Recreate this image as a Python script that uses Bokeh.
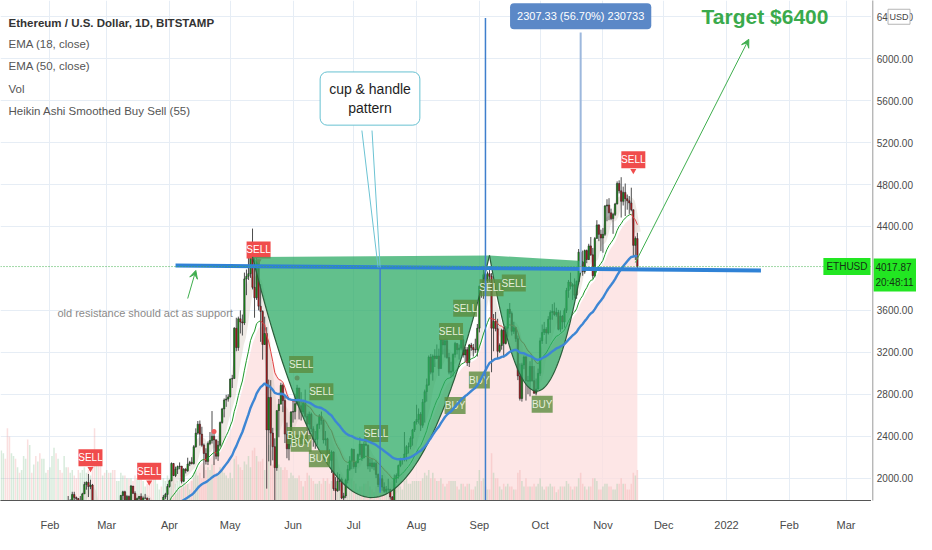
import numpy as np
import pandas as pd
from bokeh.plotting import figure
from bokeh.layouts import row
from bokeh.models import (Range1d, FixedTicker, Label, Arrow, VeeHead, Span, Grid)
from bokeh.embed import file_html
from bokeh.resources import INLINE
from bokeh.core.properties import value

# ----------------------------------------------------------------- data ----
start_date = "2021-01-08"
first_open = 1217

closes = [
    1225, 1280, 1262, 1090, 1045, 1130, 1230, 1170, 1235, 1230, 1255, 1380, 1380, 1120, 1235, 1230, 1390, 1325, 1360, 1250, 1330, 1380, 1380, 1315,
    1370, 1515, 1660, 1595, 1720, 1680, 1615, 1750, 1770, 1745, 1785, 1845, 1815, 1805, 1780, 1780, 1850, 1940, 1960, 1920, 1935, 1780, 1570, 1625, 1475, 1445, 1460, 1415,
    1565, 1490, 1575, 1540, 1530, 1655, 1720, 1835, 1870, 1795, 1825, 1770, 1925, 1855, 1790, 1805, 1825, 1780, 1810, 1810, 1785, 1680, 1670, 1585, 1590, 1700, 1715, 1690, 1820, 1845, 1920,
    1975, 2140, 2025, 2085, 2110, 2115, 1970, 2085, 2070, 2135, 2150, 2140, 2300, 2430, 2515, 2420, 2315, 2235, 2160, 2330, 2360, 2400, 2365, 2210, 2315, 2530, 2660, 2745, 2755, 2775,
    2945, 2950, 3430, 3245, 3520, 3490, 3480, 3900, 3925, 3950, 4170, 3820, 3720, 4080, 3640, 3590, 3275, 3380, 2460, 2770, 2430, 2300, 2100, 2645, 2705, 2885, 2740, 2420, 2280, 2390, 2630,
    2635, 2710, 2860, 2690, 2630, 2715, 2590, 2515, 2610, 2470, 2370, 2370, 2510, 2590, 2550, 2365, 2375, 2225, 2170, 2250, 1900, 1880, 1970, 1990, 1810, 1830, 1980, 2085, 2165, 2275,
    2110, 2150, 2225, 2325, 2195, 2325, 2315, 2115, 2145, 2110, 2140, 2035, 1940, 1995, 1915, 1875, 1895, 1895, 1820, 1785, 1995, 2025, 2120, 2185, 2190, 2230, 2300, 2300, 2380, 2460, 2535,
    2560, 2610, 2505, 2725, 2825, 2890, 3155, 3010, 3165, 3140, 3165, 3045, 3320, 3270, 3310, 3150, 3010, 3020, 3180, 3285, 3225, 3240, 3320, 3175, 3225, 3100, 3270, 3245, 3225, 3225, 3430,
    3830, 3790, 3940, 3885, 3950, 3925, 3430, 3495, 3425, 3210, 3265, 3410, 3285, 3430, 3610, 3570, 3400, 3435, 3330, 2975, 2760, 3080, 3155, 2930, 2925, 3065, 2930, 2810, 2850, 3000,
    3310, 3390, 3420, 3385, 3515, 3580, 3590, 3560, 3580, 3420, 3545, 3490, 3600, 3790, 3870, 3830, 3845, 3745, 3875, 4155, 4060, 3970, 4170, 4085, 4215, 4130, 3930, 4285, 4415, 4325, 4290,
    4325, 4595, 4605, 4530, 4475, 4515, 4615, 4810, 4740, 4640, 4725, 4665, 4645, 4625, 4560, 4220, 4285, 4017.87,
]
highs = [
    1285, 1300, 1345, 1260, 1150, 1140, 1245, 1250, 1260, 1250, 1265, 1440, 1390, 1385, 1260, 1275, 1420, 1470, 1375, 1365, 1345, 1430, 1395, 1385,
    1375, 1540, 1665, 1690, 1735, 1740, 1680, 1775, 1790, 1830, 1800, 1870, 1870, 1825, 1810, 1830, 1860, 1965, 1970, 2040, 1985, 1945, 1790, 1715, 1670, 1555, 1525, 1465,
    1570, 1595, 1655, 1620, 1545, 1670, 1735, 1840, 1880, 1880, 1840, 1835, 1935, 1925, 1875, 1815, 1830, 1855, 1825, 1850, 1815, 1810, 1725, 1740, 1630, 1710, 1730, 1725, 1840, 1860, 1945,
    1985, 2150, 2145, 2110, 2120, 2150, 2115, 2095, 2095, 2195, 2165, 2200, 2315, 2475, 2545, 2550, 2490, 2330, 2285, 2350, 2440, 2640, 2445, 2370, 2355, 2540, 2670, 2760, 2795, 2800,
    2950, 2985, 3440, 3530, 3540, 3600, 3560, 3960, 3990, 4200, 4230, 4380, 4140, 4140, 4080, 3850, 3600, 3540, 3440, 2940, 2935, 2480, 2380, 2645, 2755, 2910, 2900, 2780, 2530, 2425, 2640,
    2740, 2805, 2890, 2860, 2820, 2745, 2845, 2615, 2635, 2625, 2495, 2450, 2520, 2610, 2635, 2560, 2450, 2385, 2275, 2265, 2255, 2010, 2055, 2040, 2005, 1860, 1995, 2125, 2210, 2285,
    2275, 2155, 2235, 2390, 2325, 2350, 2410, 2320, 2185, 2185, 2155, 2170, 2045, 2010, 2030, 1960, 1925, 1995, 1895, 1830, 2035, 2045, 2130, 2195, 2190, 2440, 2315, 2340, 2400, 2470, 2545,
    2700, 2665, 2630, 2755, 2845, 2950, 3170, 3185, 3180, 3230, 3275, 3235, 3330, 3300, 3330, 3330, 3195, 3110, 3190, 3300, 3285, 3275, 3370, 3360, 3250, 3250, 3280, 3290, 3280, 3330, 3470,
    3840, 3840, 4025, 3975, 3970, 3985, 3955, 3565, 3585, 3520, 3285, 3425, 3440, 3450, 3610, 3670, 3590, 3490, 3440, 3360, 3095, 3100, 3170, 3165, 2975, 3115, 3160, 3070, 2950, 3045,
    3340, 3465, 3490, 3440, 3545, 3600, 3660, 3675, 3625, 3605, 3600, 3555, 3620, 3815, 3890, 3960, 3860, 3905, 3885, 4185, 4370, 4170, 4180, 4180, 4235, 4300, 4195, 4300, 4460, 4420, 4370,
    4385, 4605, 4660, 4670, 4570, 4530, 4625, 4830, 4840, 4870, 4780, 4810, 4705, 4690, 4770, 4560, 4305, 4340,
]
lows = [
    1160, 1200, 1170, 905, 1010, 1030, 1120, 1100, 1160, 1175, 1185, 1245, 1260, 1095, 1030, 1220, 1225, 1300, 1265, 1220, 1225, 1300, 1320, 1295,
    1305, 1370, 1510, 1510, 1595, 1660, 1540, 1565, 1715, 1690, 1715, 1755, 1790, 1775, 1660, 1740, 1770, 1850, 1890, 1820, 1895, 1600, 1360, 1510, 1460, 1405, 1420, 1295,
    1410, 1460, 1485, 1500, 1440, 1530, 1640, 1710, 1790, 1760, 1740, 1735, 1765, 1850, 1750, 1740, 1750, 1770, 1765, 1800, 1750, 1670, 1655, 1575, 1550, 1585, 1680, 1660, 1690, 1800, 1780,
    1910, 1970, 2020, 2010, 2040, 2085, 1950, 1965, 2045, 2060, 2115, 2130, 2130, 2290, 2415, 2310, 2300, 2000, 2130, 2125, 2315, 2330, 2125, 2180, 2165, 2300, 2520, 2580, 2680, 2730,
    2770, 2860, 2950, 3210, 3215, 3380, 3360, 3460, 3745, 3890, 3910, 3800, 3530, 3700, 3600, 3300, 3130, 3270, 1900, 2160, 2120, 2170, 1740, 2070, 2390, 2705, 2630, 2335, 2190, 2170, 2310,
    2530, 2560, 2695, 2560, 2550, 2610, 2575, 2320, 2420, 2440, 2300, 2280, 2315, 2470, 2510, 2330, 2310, 2175, 2140, 2050, 1880, 1700, 1870, 1880, 1800, 1720, 1810, 1950, 2070, 2085,
    2090, 2050, 2140, 2205, 2165, 2190, 2305, 2085, 2060, 2090, 2075, 2000, 1915, 1880, 1880, 1860, 1855, 1870, 1795, 1720, 1780, 1955, 1995, 2105, 2130, 2160, 2160, 2235, 2275, 2310, 2440,
    2510, 2520, 2450, 2480, 2530, 2730, 2880, 2990, 2930, 3060, 3135, 2975, 3045, 3180, 3150, 3140, 2990, 2960, 2970, 3150, 3180, 3130, 3220, 3150, 3105, 3070, 3060, 3215, 3160, 3195, 3160,
    3390, 3720, 3710, 3830, 3845, 3870, 3010, 3210, 3400, 3140, 3195, 3225, 3150, 3275, 3350, 3530, 3360, 3375, 3300, 2935, 2740, 2730, 3040, 2740, 2800, 2780, 2920, 2805, 2790, 2845,
    2975, 3280, 3365, 3280, 3370, 3385, 3510, 3545, 3540, 3410, 3395, 3420, 3435, 3575, 3720, 3800, 3700, 3715, 3710, 3850, 3970, 3930, 3950, 4050, 4080, 4120, 3900, 3915, 4285, 4260, 4165,
    4150, 4310, 4450, 4460, 4460, 4330, 4500, 4610, 4715, 4485, 4600, 4500, 4560, 4520, 4545, 4110, 4080, 4000,
]
volumes = [  # thousands ETH
    180, 170, 150, 260, 230, 170, 160, 150, 120, 100, 110, 160, 150, 220, 200, 100, 130, 160, 140, 170, 150, 150, 100, 110,
    120, 160, 190, 170, 150, 110, 100, 160, 120, 120, 100, 110, 90, 80, 110, 100, 110, 120, 100, 110, 90, 170, 260, 180, 170, 130, 90, 100,
    110, 100, 100, 110, 110, 70, 70, 100, 90, 90, 80, 80, 80, 70, 90, 80, 90, 80, 70, 50, 60, 80, 80, 90, 90, 60, 40, 50, 80, 70, 90,
    80, 100, 90, 60, 70, 80, 90, 70, 60, 60, 40, 70, 100, 110, 90, 100, 80, 120, 110, 120, 110, 130, 140, 100, 90, 120, 110, 100, 90, 80,
    100, 80, 150, 160, 130, 120, 110, 140, 130, 160, 120, 180, 190, 160, 140, 140, 150, 110, 300, 200, 180, 130, 180, 140, 130, 120, 110, 120, 110, 80, 100,
    90, 80, 80, 90, 70, 50, 70, 100, 90, 80, 70, 60, 60, 70, 60, 80, 70, 80, 60, 70, 120, 150, 100, 80, 90, 70, 60, 70, 80, 80,
    70, 60, 40, 50, 50, 60, 60, 70, 50, 40, 30, 50, 60, 60, 60, 60, 40, 40, 50, 70, 90, 60, 50, 50, 40, 70, 80, 60, 60, 70, 70,
    70, 70, 70, 80, 100, 90, 110, 80, 100, 80, 70, 70, 80, 60, 50, 60, 70, 70, 70, 70, 50, 40, 60, 60, 50, 60, 60, 40, 40, 50, 70,
    110, 70, 80, 50, 40, 40, 170, 100, 80, 80, 50, 40, 60, 50, 60, 50, 50, 40, 40, 100, 110, 70, 50, 80, 50, 50, 50, 60, 50, 60,
    80, 50, 40, 50, 50, 60, 50, 50, 30, 40, 50, 50, 50, 70, 60, 50, 40, 50, 50, 80, 100, 60, 50, 40, 50, 50, 80, 80, 70, 40, 40,
    50, 60, 60, 50, 50, 40, 40, 60, 60, 80, 60, 60, 40, 40, 60, 100, 90, 110,
]

month_ticks = ["2021-02-01", "2021-03-01", "2021-04-01", "2021-05-01", "2021-06-01", "2021-07-01",
               "2021-08-01", "2021-09-01", "2021-10-01", "2021-11-01", "2021-12-01", "2022-01-01",
               "2022-02-01", "2022-03-01"]
month_labels = ["Feb", "Mar", "Apr", "May", "Jun", "Jul", "Aug", "Sep", "Oct", "Nov", "Dec", "2022", "Feb", "Mar"]
price_ticks = [2000, 2400, 2800, 3200, 3600, 4400, 4800, 5200, 5600, 6000, 6400]
price_tick_labels = ["2000.00", "2400.00", "2800.00", "3200.00", "3600.00", "4400.00", "4800.00",
                     "5200.00", "5600.00", "6000.00", "6400.00"]

# Heikin Ashi smoothed signals (date, price of label, text)
red_sig_dates = ["2021-02-21", "2021-03-22", "2021-05-15", "2021-11-16"]
red_sig_prices = [2194, 2065, 4176, 5037]
red_sig_texts = ["SELL", "SELL", "SELL", "SELL"]
ol_sig_dates = ["2021-06-05", "2021-06-15", "2021-06-03", "2021-06-05", "2021-06-14", "2021-07-12",
                "2021-08-25", "2021-08-18", "2021-09-01", "2021-08-20", "2021-10-02", "2021-09-18", "2021-09-07"]
ol_sig_prices = [3083, 2824, 2407, 2333, 2185, 2426, 3620, 3398, 2935, 2694, 2704, 3861, 3815]
ol_sig_texts = ["SELL", "SELL", "BUY", "BUY", "BUY", "SELL", "SELL", "SELL", "BUY", "BUY", "BUY", "SELL", "SELL"]
dot_dates = ["2021-06-03", "2021-04-23"]
dot_prices = [2954, 2444]

# drawings (date, price)
cup_main = [("2021-05-12", 4110), ("2021-07-10", 1815), ("2021-09-06", 4124)]
cup_handle = [("2021-09-06", 4124), ("2021-09-29", 2830), ("2021-10-22", 4070)]
resistance_line = [("2021-04-04", 4028), ("2022-01-18", 3981)]
target_arrow = [("2021-11-17", 4056), ("2022-01-12", 6185)]
support_arrow = [("2021-04-10", 3713), ("2021-04-14", 3981)]
vline_cup = [("2021-07-14", 4009), ("2021-07-14", 1861)]
vline_sep = [("2021-09-04", 6389), ("2021-09-04", 1700)]
vline_measure = [("2021-10-21", 6250), ("2021-10-21", 3960)]
callout_pointer = [("2021-07-05", 5315), ("2021-07-13", 4009), ("2021-07-10", 5315), ("2021-07-14", 4009)]
last_price = 4017.87

# -------------------------------------------------------------- helpers ----
FONT = "Liberation Sans"
DAY = 86400000


def ms(d):
    return pd.Timestamp(d).value // 10**6


def qcurve(pts, n=80):
    (x0, y0), (xb, yb), (x2, y2) = [(ms(d), v) for d, v in pts]
    cx = 2 * xb - (x0 + x2) / 2
    cy = 2 * yb - (y0 + y2) / 2
    t = np.linspace(0, 1, n)
    xs = (1 - t) ** 2 * x0 + 2 * t * (1 - t) * cx + t ** 2 * x2
    ys = (1 - t) ** 2 * y0 + 2 * t * (1 - t) * cy + t ** 2 * y2
    return list(xs), list(ys)


n = len(closes)
dates = [ms(pd.Timestamp(start_date) + pd.Timedelta(days=i)) for i in range(n)]
opens = [first_open] + closes[:-1]
up = [c >= o for o, c in zip(opens, closes)]

s_close = pd.Series(closes, dtype=float)
ema18 = s_close.ewm(span=18, adjust=False).mean().tolist()
ema50 = s_close.ewm(span=50, adjust=False).mean().tolist()
ha_close = (pd.Series(opens) + pd.Series(highs) + pd.Series(lows) + s_close) / 4
ha_smooth = ha_close.ewm(span=5, adjust=False).mean().tolist()
pink_top = ha_close.ewm(span=20, adjust=False).mean().tolist()

Y0, Y1 = 1787, 6555
X0, X1 = ms("2021-01-07 14:00"), ms("2022-03-13 14:00")
H = 534
WA, WB = 871, 45
BOTTOM = 34
FRAME_H = H - BOTTOM
ppu = FRAME_H / (Y1 - Y0)  # pixels per USD

# ---------------------------------------------------------------- figure ----
p = figure(width=WA, height=H, output_backend="svg", toolbar_location=None,
           x_range=Range1d(X0, X1), y_range=Range1d(Y0, Y1),
           y_axis_location=None, min_border_left=0, min_border_top=0,
           min_border_right=0, min_border_bottom=BOTTOM)
p.outline_line_color = None
p.background_fill_color = "white"
p.border_fill_color = "white"

xt = FixedTicker(ticks=[ms(d) for d in month_ticks])
yt = FixedTicker(ticks=price_ticks)
p.xaxis.ticker = xt
p.xaxis.major_label_overrides = {ms(d): l for d, l in zip(month_ticks, month_labels)}
p.xgrid.ticker = xt
if len(p.ygrid) == 0:
    p.add_layout(Grid(dimension=1, ticker=yt))
else:
    p.ygrid.ticker = yt
p.xaxis.major_tick_line_color = None
p.xaxis.minor_tick_line_color = None
p.xaxis.major_label_text_font = FONT
p.xaxis.major_label_text_font_size = "11px"
p.xaxis.major_label_text_color = "#4a4a4a"
p.xaxis.axis_line_color = "#555555"
p.xaxis.major_label_standoff = 12
p.grid.grid_line_color = "#e6edf5"
p.grid.grid_line_width = 1

# pink Heikin-Ashi area
p.varea(x=dates, y1=[Y0 - 100] * n, y2=pink_top, fill_color="#fcdede", fill_alpha=0.75)

# volume
p.extra_y_ranges = {"vol": Range1d(0, 1800)}
p.vbar(x=dates, top=volumes, width=0.75 * DAY, y_range_name="vol",
       fill_color=["#8fc79a" if u else "#f2a3a3" for u in up], line_color=None, fill_alpha=0.35)

# HA smoothed band
p.line(dates, ha_smooth, line_color="#d9cec3", line_width=7, line_alpha=0.45)

# candles
p.segment(x0=dates, y0=lows, x1=dates, y1=highs, line_color="#4d4d4d", line_width=1)
p.vbar(x=dates, width=0.72 * DAY, top=[max(o, c) for o, c in zip(opens, closes)],
       bottom=[min(o, c) for o, c in zip(opens, closes)],
       fill_color=["#179a17" if u else "#b8191c" for u in up], line_color="#222222", line_width=0.5)

# EMA 18 (green rising / red falling)
p.segment(x0=dates[:-1], y0=ema18[:-1], x1=dates[1:], y1=ema18[1:],
          line_color=["#1f9a2a" if b >= a else "#e04444" for a, b in zip(ema18[:-1], ema18[1:])],
          line_width=1)

# red SELL signals
rx = [ms(d) for d in red_sig_dates]
p.rect(x=rx, y=red_sig_prices, width=24, height=17, width_units="screen", height_units="screen",
       fill_color="#f04c4c", line_color=None)
p.scatter(x=rx, y=[v - 11 / ppu for v in red_sig_prices], marker="inverted_triangle", size=6,
          fill_color="#f04c4c", line_color=None)
p.text(x=rx, y=red_sig_prices, text=red_sig_texts, text_color="white", text_font=value(FONT),
       text_font_size="10px", text_align="center", text_baseline="middle")
p.scatter(x=[ms(d) for d in dot_dates], y=dot_prices, size=5, fill_color="#f05a5a", line_color=None)

# cup & handle drawing
for cup in (cup_main, cup_handle):
    cx, cy = qcurve(cup)
    p.patch(cx, cy, fill_color="#2eab66", fill_alpha=0.75, line_color=None)
    p.line(cx, cy, line_color="#2b5e3b", line_width=1.2)

# olive signals
ox = [ms(d) for d in ol_sig_dates]
p.rect(x=ox, y=ol_sig_prices, width=[24 if t == "SELL" else 21 for t in ol_sig_texts], height=17,
       width_units="screen", height_units="screen", fill_color="#5b8c3e", fill_alpha=0.8, line_color=None)
p.text(x=ox, y=ol_sig_prices, text=ol_sig_texts, text_color="#e4eed9", text_font=value(FONT),
       text_font_size="10px", text_align="center", text_baseline="middle")

# EMA 50
p.line(dates, ema50, line_color="#3d86d4", line_width=2.4)

# lines
p.add_layout(Span(location=last_price, dimension="width", line_color="#43b14f",
                  line_dash="1 2", line_width=1))
(ra, rva), (rb, rvb) = resistance_line
p.segment(x0=[ms(ra)], y0=[rva], x1=[ms(rb)], y1=[rvb], line_color="#2f82d6", line_width=4)
for (da, va), (db, vb) in (vline_cup, vline_sep):
    p.segment(x0=[ms(da)], y0=[va], x1=[ms(db)], y1=[vb], line_color="#3f7fcc", line_width=1.5)
(ma, mva), (mb, mvb) = vline_measure
p.segment(x0=[ms(ma)], y0=[mva], x1=[ms(mb)], y1=[mvb], line_color="#9db8dd", line_width=2)
cp = callout_pointer
p.segment(x0=[ms(cp[0][0]), ms(cp[2][0])], y0=[cp[0][1], cp[2][1]],
          x1=[ms(cp[1][0]), ms(cp[3][0])], y1=[cp[1][1], cp[3][1]], line_color="#6cc3d3", line_width=1)

for (da, va), (db, vb) in (target_arrow, support_arrow):
    p.add_layout(Arrow(end=VeeHead(size=8, line_color="#3fae4e", line_width=1, fill_color="#3fae4e"),
                       x_start=ms(da), y_start=va, x_end=ms(db), y_end=vb,
                       line_color="#3fae4e", line_width=1))

# ----------------------------------------------------------------- texts ----
p.add_layout(Label(x=ms("2021-07-09"), y=5620, text="cup & handle\npattern", text_font=FONT,
                   text_font_size="14px", text_color="#1e1e1e", text_align="center",
                   text_baseline="middle", background_fill_color="white", border_line_color="#67c1d1",
                   border_line_width=1, border_radius=7, padding=9))
p.add_layout(Label(x=ms("2021-10-21"), y=6405, text="2307.33 (56.70%) 230733", text_font=FONT,
                   text_font_size="11px", text_color="white", text_align="center", text_baseline="middle",
                   background_fill_color="#5b88c7", border_radius=4, padding=7))
p.add_layout(Label(x=ms("2022-01-20"), y=6400, text="Target $6400", text_font=FONT,
                   text_font_size="21px", text_font_style="bold", text_color="#3aaa4c",
                   text_align="center", text_baseline="middle"))
p.add_layout(Label(x=ms("2021-03-20"), y=3574, text="old resistance should act as support",
                   text_font=FONT, text_font_size="11px", text_color="#8a8a8a",
                   text_align="center", text_baseline="middle"))

legend_lines = [("Ethereum / U.S. Dollar, 1D, BITSTAMP", "bold", "#333333", 22),
                ("EMA (18, close)", "normal", "#555555", 43),
                ("EMA (50, close)", "normal", "#555555", 65),
                ("Vol", "normal", "#555555", 88),
                ("Heikin Ashi Smoothed Buy Sell  (55)", "normal", "#555555", 110)]
for txt, style, col, dy in legend_lines:
    p.add_layout(Label(x=X0, y=Y1, x_offset=8, y_offset=-dy, text=txt, text_font=FONT,
                       text_font_size="11.5px", text_font_style=style, text_color=col,
                       text_baseline="middle"))

p.add_layout(Label(x=X1, y=last_price, x_offset=-1, text="ETHUSD", text_font=FONT,
                   text_font_size="10px", text_color="#143314", text_align="right",
                   text_baseline="middle", background_fill_color="#22e622", padding=3))

# ------------------------------------------------------ price scale panel ----
q = figure(width=WB, height=H, output_backend="svg", toolbar_location=None,
           x_range=Range1d(-0.03, 1), y_range=p.y_range,
           x_axis_location=None, y_axis_location=None, min_border_left=0, min_border_top=0,
           min_border_right=0, min_border_bottom=BOTTOM)
q.outline_line_color = None
q.grid.visible = False
q.background_fill_color = "white"
q.border_fill_color = "white"
q.segment(x0=[0], y0=[Y0 - 200], x1=[0], y1=[Y1 + 200], line_color="#9a9a9a", line_width=1)
q.text(x=[0] * len(price_ticks), y=price_ticks, text=price_tick_labels, x_offset=4,
       text_font=value(FONT), text_font_size="10px", text_color="#4a4a4a",
       text_align="left", text_baseline="middle")
q.rect(x=[0.6], y=[6400], width=22, height=15, width_units="screen", height_units="screen",
       fill_color="white", line_color="#b5b5b5", line_width=1)
q.text(x=[0.6], y=[6400], text=["USD"], text_font=value(FONT), text_font_size="9px",
       text_color="#444444", text_align="center", text_baseline="middle")
q.quad(left=[0.02], right=[1.0], top=[last_price + 8 / ppu], bottom=[last_price - 25 / ppu],
       fill_color="#22e622", line_color=None)
q.text(x=[0.06, 0.06], y=[last_price, last_price - 16 / ppu], text=["4017.87", "20:48:11"],
       text_font=value(FONT), text_font_size="10px", text_color="#143314",
       text_align="left", text_baseline="middle")

open("out.html", "w").write(file_html(row(p, q), INLINE, title="ETHUSD cup & handle"))
